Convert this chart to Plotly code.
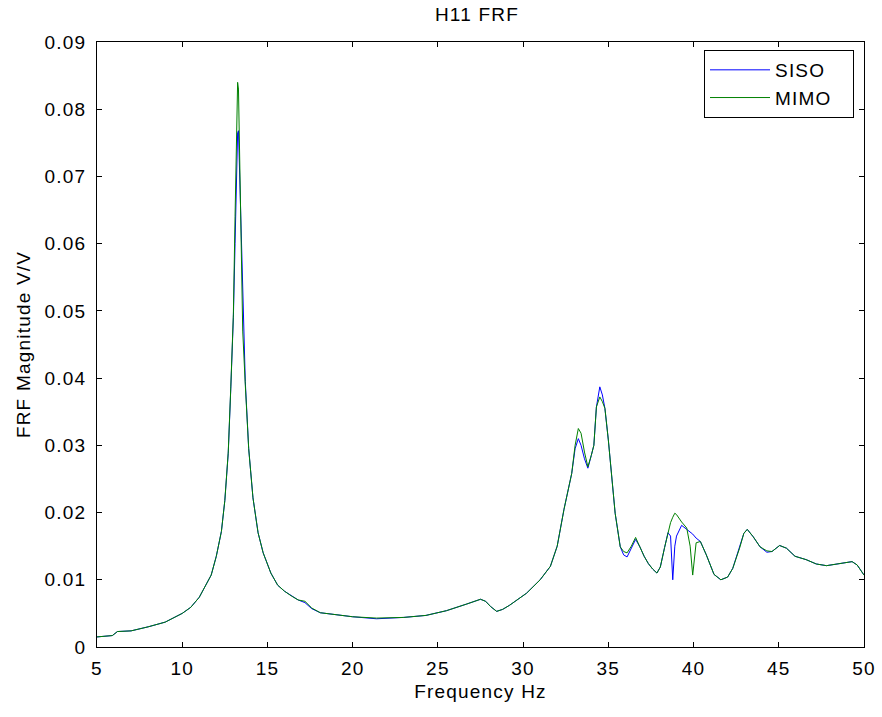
import plotly.graph_objects as go

freq = [5.0, 5.5, 5.9, 6.2, 7.0, 8.0, 9.0, 10.0, 10.5, 11.0, 11.4, 11.7, 12.0, 12.3, 12.5,
        12.7, 12.85, 13.0, 13.1, 13.2, 13.25, 13.3, 13.45, 13.55, 13.7, 13.9, 14.15, 14.45,
        14.75, 15.2, 15.6, 16.0, 16.4, 16.8, 17.2, 17.6, 18.1, 19.0, 20.0, 21.4, 23.0, 24.3,
        25.5, 26.7, 27.2, 27.5, 27.8, 28.1, 28.45, 28.8, 29.2, 29.8, 30.2, 31.0, 31.6, 32.0,
        32.4, 32.85, 33.05, 33.24, 33.4, 33.6, 33.8, 34.0, 34.15, 34.3, 34.5, 34.65, 34.8,
        35.0, 35.2, 35.4, 35.7, 35.9, 36.1, 36.35, 36.6, 36.85, 37.1, 37.35, 37.6, 37.85,
        38.05, 38.3, 38.5, 38.65, 38.78, 38.9, 39.0, 39.3, 39.6, 39.8, 39.95, 40.15, 40.4,
        40.75, 41.2, 41.6, 42.0, 42.3, 42.7, 42.95, 43.15, 43.5, 43.9, 44.3, 44.6, 45.05,
        45.45, 45.95, 46.6, 47.2, 47.8, 48.6, 49.3, 49.6, 50.0]

siso = [0.0015, 0.0016, 0.0017, 0.0023, 0.0024, 0.0030, 0.0037, 0.0050, 0.0059, 0.0074,
        0.0093, 0.0107, 0.0135, 0.0172, 0.0218, 0.0288, 0.0385, 0.0490, 0.0600, 0.0720,
        0.0765, 0.0768, 0.0620, 0.0520, 0.0395, 0.0295, 0.0222, 0.0170, 0.0140, 0.0110,
        0.0092, 0.0083, 0.0076, 0.0070, 0.0066, 0.0057, 0.0051, 0.0048, 0.0045, 0.0042,
        0.0044, 0.0047, 0.0054, 0.0064, 0.0068, 0.0071, 0.0068, 0.0060, 0.0053, 0.0056,
        0.0062, 0.0073, 0.0080, 0.0100, 0.0120, 0.0150, 0.0205, 0.0258, 0.0295, 0.0310,
        0.0300, 0.0280, 0.0266, 0.0285, 0.0300, 0.0357, 0.0387, 0.0375, 0.0355, 0.0308,
        0.0253, 0.0199, 0.0149, 0.0137, 0.0134, 0.0148, 0.0160, 0.0149, 0.0135, 0.0124,
        0.0116, 0.0110, 0.0119, 0.0148, 0.0170, 0.0165, 0.0100, 0.0150, 0.0165, 0.0181,
        0.0175, 0.0170, 0.0168, 0.0162, 0.0157, 0.0137, 0.0108, 0.0100, 0.0104, 0.0117,
        0.0147, 0.0169, 0.0175, 0.0164, 0.0149, 0.0141, 0.0142, 0.0151, 0.0147, 0.0135,
        0.0130, 0.01235, 0.0121, 0.01245, 0.0127, 0.0122, 0.0107]

mimo = [0.0015, 0.0016, 0.0017, 0.0023, 0.0024, 0.0030, 0.0037, 0.0050, 0.0059, 0.0074,
        0.0093, 0.0107, 0.0135, 0.0172, 0.0218, 0.0290, 0.0387, 0.0495, 0.0640, 0.0790,
        0.0840, 0.0830, 0.0600, 0.0470, 0.0390, 0.0295, 0.0222, 0.0170, 0.0140, 0.0110,
        0.0092, 0.0083, 0.0076, 0.0070, 0.0068, 0.0058, 0.0051, 0.0048, 0.0045, 0.0043,
        0.0044, 0.0047, 0.0054, 0.0064, 0.0068, 0.0071, 0.0068, 0.0060, 0.0053, 0.0056,
        0.0062, 0.0073, 0.0080, 0.0100, 0.0120, 0.0150, 0.0205, 0.0258, 0.0300, 0.0325,
        0.0318, 0.0290, 0.0268, 0.0285, 0.0300, 0.0357, 0.0372, 0.0365, 0.0355, 0.0308,
        0.0253, 0.0199, 0.0149, 0.0142, 0.0140, 0.0150, 0.0163, 0.0149, 0.0135, 0.0124,
        0.0116, 0.0110, 0.0119, 0.0148, 0.0168, 0.0185, 0.0193, 0.0199, 0.0197, 0.0186,
        0.0177, 0.0150, 0.0107, 0.0155, 0.0157, 0.0137, 0.0108, 0.0100, 0.0104, 0.0117,
        0.0147, 0.0169, 0.0175, 0.0164, 0.0149, 0.0143, 0.0142, 0.0151, 0.0147, 0.0135,
        0.0130, 0.01235, 0.0121, 0.01245, 0.0127, 0.0122, 0.0107]

x_ticks = [5, 10, 15, 20, 25, 30, 35, 40, 45, 50]
x_tick_text = ["5", "10", "15", "20", "25", "30", "35", "40", "45", "50"]
y_ticks = [0, 0.01, 0.02, 0.03, 0.04, 0.05, 0.06, 0.07, 0.08, 0.09]
y_tick_text = ["0", "0.01", "0.02", "0.03", "0.04", "0.05", "0.06", "0.07", "0.08", "0.09"]

FONT = "Liberation Sans, Arial, sans-serif"
FS = 19


def spaced(s, ls="1.2px", pad=""):
    return f'<span style="letter-spacing:{ls}">{s}</span>{pad}'


fig = go.Figure()
fig.add_trace(go.Scatter(x=freq, y=siso, mode="lines",
                         name=spaced("SISO", pad="&nbsp;&nbsp;&nbsp;"),
                         line=dict(color="#0000ff", width=1)))
fig.add_trace(go.Scatter(x=freq, y=mimo, mode="lines",
                         name=spaced("MIMO", pad="&nbsp;&nbsp;&nbsp;"),
                         line=dict(color="#008000", width=1)))

axis_common = dict(showline=True, linecolor="black", linewidth=1, mirror="allticks",
                   ticks="inside", ticklen=5, tickcolor="black", showgrid=False,
                   zeroline=False, automargin=False,
                   tickfont=dict(size=FS, color="black", family=FONT))

fig.update_layout(
    width=882, height=717,
    margin=dict(l=97, r=18, t=42, b=70, autoexpand=False),
    paper_bgcolor="white", plot_bgcolor="white",
    font=dict(family=FONT, color="black"),
    title=dict(text=spaced("H11 FRF"), x=0.5408, xanchor="center", y=0.9798, yanchor="middle",
               font=dict(size=FS, color="black", family=FONT)),
    xaxis=dict(range=[5, 50], tickvals=x_ticks, ticktext=[spaced(t) for t in x_tick_text],
               ticklabelstandoff=4,
               title=dict(text=spaced("Frequency Hz"), font=dict(size=FS, family=FONT), standoff=6),
               **axis_common),
    yaxis=dict(range=[0, 0.09], tickvals=y_ticks, ticktext=[spaced(t) for t in y_tick_text],
               ticklabelstandoff=6,
               title=dict(text=spaced("FRF Magnitude V/V"), font=dict(size=FS, family=FONT), standoff=8),
               **axis_common),
    legend=dict(x=0.7914, y=0.9868, xanchor="left", yanchor="top",
                bordercolor="black", borderwidth=1, bgcolor="white",
                font=dict(size=FS, color="black", family=FONT),
                tracegroupgap=0, itemwidth=60),
    showlegend=True,
)

fig.write_html("out.html", config={"displayModeBar": False},
               post_script="document.body.style.margin='0';")
